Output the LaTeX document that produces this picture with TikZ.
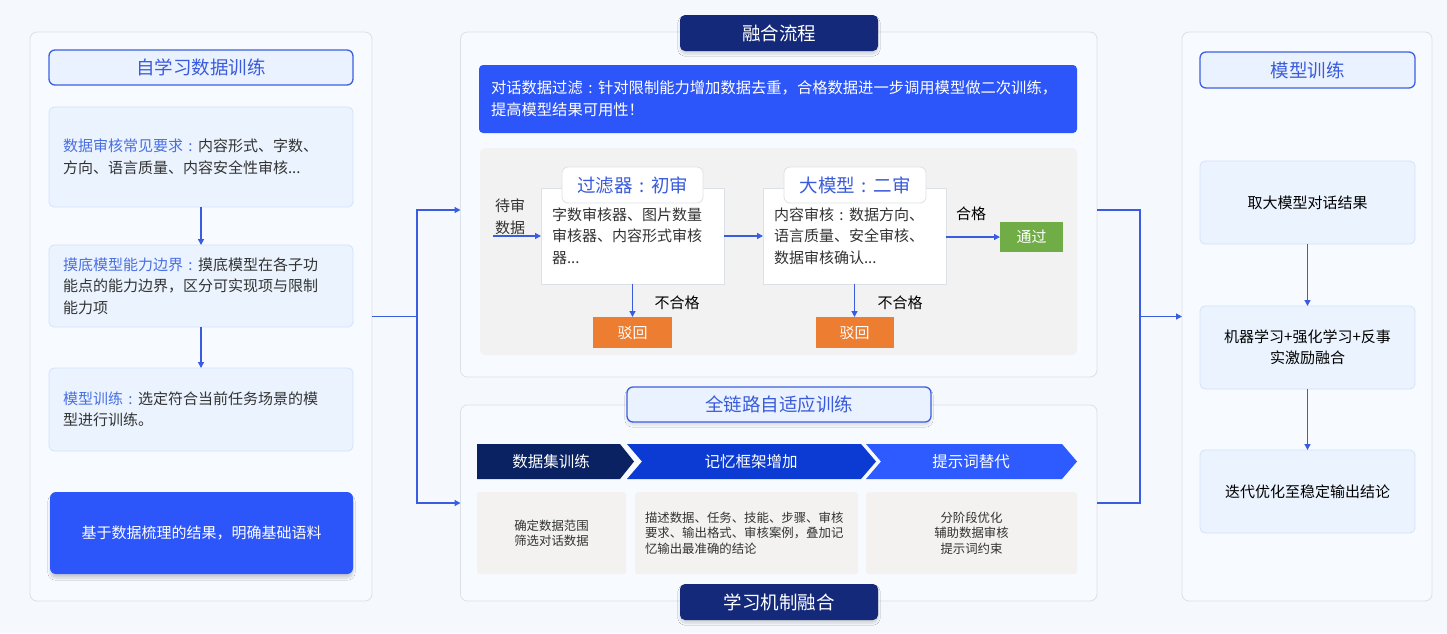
\documentclass[tikz,border=0pt]{standalone}
\usepackage{fontspec}
\setmainfont{Noto Sans CJK SC}
\usetikzlibrary{arrows.meta,shadows.blur}

\definecolor{pagebg}{HTML}{F5F8FC}
\definecolor{panelfill}{HTML}{F7FAFE}
\definecolor{panelline}{HTML}{DCE1E8}
\definecolor{titlefill}{HTML}{EAF2FF}
\definecolor{titleline}{HTML}{3D5FE0}
\definecolor{titletext}{HTML}{3A5BDB}
\definecolor{boxfill}{HTML}{EAF3FE}
\definecolor{boxline}{HTML}{D3E3FB}
\definecolor{labblue}{HTML}{4A6FE3}
\definecolor{txtgray}{HTML}{333333}
\definecolor{brightblue}{HTML}{2C55FA}
\definecolor{navy}{HTML}{14297A}
\definecolor{areagray}{HTML}{F2F2F2}
\definecolor{chevA}{HTML}{0A2262}
\definecolor{chevB}{HTML}{0B3BD3}
\definecolor{chevC}{HTML}{2D5BFF}
\definecolor{passgreen}{HTML}{70AD47}
\definecolor{rejorange}{HTML}{ED7D31}
\definecolor{conncol}{HTML}{3A5CE0}
\definecolor{cellgray}{HTML}{F3F2F1}

% centred full-width colon
\newcommand{\fwc}{\makebox[1em]{:}}

\begin{document}
\begin{tikzpicture}
  [x=1pt,y=-1pt,inner sep=0pt,outer sep=0pt,
   every node/.style={text=txtgray},
   panel/.style={draw=panelline,fill=panelfill,rounded corners=7pt,line width=0.8pt},
   title/.style={draw=titleline,fill=titlefill,rounded corners=6pt,line width=1.3pt,
     text=titletext,font=\fontsize{18.5}{22}\selectfont},
   card/.style={draw=boxline,fill=boxfill,rounded corners=5pt,line width=0.8pt,
     font=\fontsize{15}{21.5}\selectfont},
   tab/.style={fill=navy,rounded corners=5pt,text=white,
     font=\fontsize{18.5}{22}\selectfont,
     blur shadow={shadow xshift=0pt,shadow yshift=-3pt,shadow blur steps=8,shadow opacity=15}},
   stagebox/.style={draw=panelline,fill=white,line width=0.8pt,
     font=\fontsize{15}{21.5}\selectfont,align=left,text width=161pt,inner xsep=11pt},
   stagetab/.style={draw=panelline,fill=white,rounded corners=6pt,line width=0.8pt,
     text=titletext,font=\fontsize{18.5}{22}\selectfont},
   flag/.style={text=white,font=\fontsize{15}{18}\selectfont},
   small/.style={font=\fontsize{15}{18}\selectfont},
   cell/.style={fill=cellgray,rounded corners=3pt,font=\fontsize{12.4}{15.5}\selectfont},
   chev/.style={text=white,font=\fontsize{15.5}{18}\selectfont},
   conn/.style={draw=conncol,line width=1.3pt},
   arr/.style={conn,-{Triangle[length=6pt,width=6pt]}}]

  \useasboundingbox (0,0) rectangle (1447,633);
  \fill[pagebg] (0,0) rectangle (1447,633);

  % panels
  \node[panel,minimum width=342,minimum height=569] (leftP) at (201,316.5) {};
  \node[panel,minimum width=636.5,minimum height=345] (midT) at (778.75,204.5) {};
  \node[panel,minimum width=636.5,minimum height=196] (midB) at (778.75,503) {};
  \node[panel,minimum width=250,minimum height=569] (rightP) at (1307,316.5) {};

  % left column
  \node[title,minimum width=304,minimum height=35] (lt) at (201,67.5) {自学习数据训练};
  \node[card,minimum height=100,text width=276pt,inner xsep=14pt,align=left] (l1) at (201,157)
    {\textcolor{labblue}{数据审核常见要求\fwc}内容形式、字数、\\方向、语言质量、内容安全性审核...};
  \node[card,minimum height=82,text width=276pt,inner xsep=14pt,align=left] (l2) at (201,286)
    {\textcolor{labblue}{摸底模型能力边界\fwc}摸底模型在各子功\\能点的能力边界，区分可实现项与限制\\能力项};
  \node[card,minimum height=83,text width=276pt,inner xsep=14pt,align=left] (l3) at (201,409.5)
    {\textcolor{labblue}{模型训练\fwc}选定符合当前任务场景的模\\型进行训练。};
  \node[fill=brightblue,rounded corners=6pt,minimum width=303,minimum height=82,text=white,
    font=\fontsize{15}{18}\selectfont,
    blur shadow={shadow xshift=0pt,shadow yshift=-4pt,shadow blur steps=10,shadow opacity=18}]
    (l4) at (201.5,533) {基于数据梳理的结果，明确基础语料};

  % fusion flow
  \node[tab,minimum width=198,minimum height=36] (tf) at (779,33) {融合流程};
  \node[fill=brightblue,rounded corners=4pt,minimum width=598,minimum height=68,text=white,
    font=\fontsize{15.3}{22}\selectfont,align=left,text width=574pt,inner xsep=12pt]
    (banner) at (778,99)
    {对话数据过滤\fwc 针对限制能力增加数据去重，合格数据进一步调用模型做二次训练，\\提高模型结果可用性！};
  \node[fill=areagray,rounded corners=5pt,minimum width=597,minimum height=207] (area) at (778.5,251.5) {};

  \node[stagebox,minimum height=96] (boxA) at (632.5,236)
    {字数审核器、图片数量\\审核器、内容形式审核\\器...};
  \node[stagetab,minimum width=141,minimum height=36] (tabA) at (632.5,185) {过滤器\fwc 初审};
  \node[stagebox,minimum height=96] (boxB) at (854.5,236)
    {内容审核\fwc 数据方向、\\语言质量、安全审核、\\数据审核确认...};
  \node[stagetab,minimum width=142,minimum height=36] (tabB) at (855,185) {大模型\fwc 二审};

  \node[small,align=left,font=\fontsize{15}{22}\selectfont] (wait) at (510,216.5) {待审\\数据};
  \coordinate (inA) at (493,236);
  \node[flag,fill=passgreen,minimum width=63,minimum height=30] (pass) at (1031.5,237) {通过};
  \node[flag,fill=rejorange,minimum width=79,minimum height=31] (rejA) at (632.5,332.5) {驳回};
  \node[flag,fill=rejorange,minimum width=78,minimum height=31] (rejB) at (854.5,332.5) {驳回};
  \node[small,text=black] (okB) at (971,214) {合格};
  \node[small,text=black] (noA) at (677,303) {不合格};
  \node[small,text=black] (noB) at (900,303) {不合格};

  \draw[arr] (inA) -- (boxA.west);
  \draw[arr] (boxA.east) -- (boxB.west);
  \draw[arr] (boxB.east |- pass) -- (pass.west);
  \draw[arr] (boxA.south) -- (rejA.north);
  \draw[arr] (boxB.south) -- (rejB.north);

  % adaptive training
  \node[title,minimum width=304,minimum height=35,
    blur shadow={shadow xshift=0pt,shadow yshift=-3pt,shadow blur steps=8,shadow opacity=12}]
    (ta) at (779,404.5) {全链路自适应训练};
  \fill[chevA] (477,444) -- (620,444) -- (634,461.5) -- (620,479) -- (477,479) -- cycle;
  \fill[chevB] (627,444) -- (861,444) -- (876,461.5) -- (861,479) -- (627,479) -- (642,461.5) -- cycle;
  \fill[chevC] (866,444) -- (1062,444) -- (1077,461.5) -- (1062,479) -- (866,479) -- (881,461.5) -- cycle;
  \node[chev] (c1) at (551,462) {数据集训练};
  \node[chev] (c2) at (751,462) {记忆框架增加};
  \node[chev] (c3) at (971,462) {提示词替代};

  \node[cell,minimum width=149,minimum height=82,align=center] (b1) at (551.5,533)
    {确定数据范围\\筛选对话数据};
  \node[cell,minimum width=223,minimum height=82,align=left,text width=203pt,inner xsep=10pt]
    (b2) at (746.5,533)
    {描述数据、任务、技能、步骤、审核\\要求、输出格式、审核案例，叠加记\\忆输出最准确的结论};
  \node[cell,minimum width=211,minimum height=82,align=center] (b3) at (971.5,533)
    {分阶段优化\\辅助数据审核\\提示词约束};
  \node[tab,minimum width=198,minimum height=36] (tm) at (779,602) {学习机制融合};

  % right column
  \node[title,minimum width=215,minimum height=36] (rt) at (1307.5,70) {模型训练};
  \node[card,minimum width=215,minimum height=83,text=black] (r1) at (1307.5,202.5) {取大模型对话结果};
  \node[card,minimum width=215,minimum height=83,align=center,text=black] (r2) at (1307.5,347.5)
    {机器学习+强化学习+反事\\实激励融合};
  \node[card,minimum width=215,minimum height=83,text=black] (r3) at (1307.5,491.5) {迭代优化至稳定输出结论};

  \foreach \from/\to in {l1/l2,l2/l3,r1/r2,r2/r3}
  \draw[arr] (\from) -- (\to);

  % links between columns
  \coordinate (jl) at (417,316.5);
  \coordinate (jr) at (1140,316.5);
  \draw[conn] (leftP.east) -- (jl);
  \draw[arr] (jl) |- ([yshift=-5.5pt]midT.west);
  \draw[arr] (jl) |- (midB.west);
  \draw[conn] ([yshift=-5.5pt]midT.east) -| (jr);
  \draw[conn] (midB.east) -| (jr);
  \draw[arr] (jr) -- (rightP.west);

\end{tikzpicture}
\end{document}
